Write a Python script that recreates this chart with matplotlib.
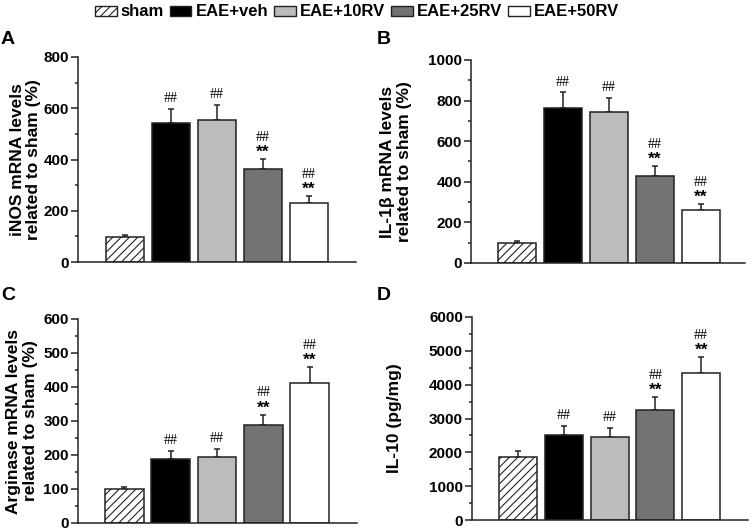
import matplotlib
matplotlib.use("Agg")
import matplotlib.pyplot as plt
from matplotlib.patches import Patch
from matplotlib.ticker import MultipleLocator
import numpy as np

plt.rcParams['font.family'] = ['Liberation Sans', 'DejaVu Sans']
plt.rcParams['font.weight'] = 'bold'
plt.rcParams['hatch.linewidth'] = 0.8
plt.rcParams['hatch.color'] = '#222222'

groups = ["sham", "EAE+veh", "EAE+10RV", "EAE+25RV", "EAE+50RV"]
colors = ["white", "black", "#bcbcbc", "#737373", "white"]
hatches = ["////", None, None, None, None]

inos_mean = [98, 541, 555, 364, 230]
inos_err = [9, 57, 58, 37, 27]
inos_marks = ["", "##", "##", "##\n**", "##\n**"]

il1b_mean = [99, 765, 744, 431, 259]
il1b_err = [8, 75, 69, 48, 31]
il1b_marks = ["", "##", "##", "##\n**", "##\n**"]

arg_mean = [99, 189, 194, 287, 412]
arg_err = [8, 23, 23, 32, 46]
arg_marks = ["", "##", "##", "##\n**", "##\n**"]

il10_mean = [1860, 2515, 2466, 3255, 4335]
il10_err = [190, 265, 265, 375, 490]
il10_marks = ["", "##", "##", "##\n**", "##\n**"]

panels = [
    ("A", inos_mean, inos_err, inos_marks, "iNOS mRNA levels\nrelated to sham (%)", 800, 200, 100,
     [78/750, (528-262)/528, (356-78)/750, (262-57)/528], (-1.02, 5.02), -0.132),
    ("B", il1b_mean, il1b_err, il1b_marks, "IL-1\u03b2 mRNA levels\nrelated to sham (%)", 1000, 200, 100,
     [471/750, (528-263)/528, (745-471)/750, (263-60)/528], (-1.0, 4.96), -0.215),
    ("C", arg_mean, arg_err, arg_marks, "Arginase mRNA levels\nrelated to sham (%)", 600, 100, 50,
     [78/750, (528-523)/528, (357-78)/750, (523-319)/528], (-1.0, 5.02), -0.143),
    ("D", il10_mean, il10_err, il10_marks, "IL-10 (pg/mg)", 6000, 1000, 500,
     [472/750, (528-520)/528, (748-472)/750, (520-317)/528], (-1.0, 5.02), -0.254),
]

fig = plt.figure(figsize=(7.5, 5.28), dpi=100)
letter_pos = {"A": (1/750, 1-31/528), "B": (377/750, 1-31/528),
              "C": (1/750, 1-287/528), "D": (377/750, 1-287/528)}

edge = "#222222"
for letter, mean, err, marks, ylabel, ymax, major, minor, rect, xl, lx in panels:
    ax = fig.add_axes(rect)
    x = np.arange(len(mean))
    bars = ax.bar(x, mean, width=0.83, color=colors, edgecolor=edge, linewidth=1.1, zorder=2)
    for b, h in zip(bars, hatches):
        if h:
            b.set_hatch(h)
    ax.errorbar(x, mean, yerr=[np.zeros(len(err)), err], fmt="none", ecolor=edge,
                elinewidth=1.1, capsize=2.3, capthick=1.1, zorder=1)
    for xi, m, e, mk in zip(x, mean, err, marks):
        if not mk:
            continue
        top = m + e
        if "**" in mk:
            ax.annotate("**", (xi, top), xytext=(0, 1.5), textcoords="offset points",
                        ha="center", va="baseline", fontsize=12.5, fontweight="bold")
            ax.annotate("##", (xi, top), xytext=(0, 13.0), textcoords="offset points",
                        ha="center", va="baseline", fontsize=10, fontweight="normal",
                        family="Liberation Serif")
        else:
            ax.annotate("##", (xi, top), xytext=(0, 5), textcoords="offset points",
                        ha="center", va="baseline", fontsize=10, fontweight="normal",
                        family="Liberation Serif")
    ax.set_ylim(0, ymax)
    ax.set_xlim(*xl)
    ax.yaxis.set_major_locator(MultipleLocator(major))
    ax.yaxis.set_minor_locator(MultipleLocator(minor))
    ax.spines["top"].set_visible(False)
    ax.spines["right"].set_visible(False)
    ax.spines["left"].set_linewidth(1.1)
    ax.spines["bottom"].set_linewidth(1.1)
    ax.spines["left"].set_color(edge)
    ax.spines["bottom"].set_color(edge)
    ax.set_xticks([])
    ax.tick_params(axis="y", which="major", length=5, width=1.1, labelsize=11, pad=1.5, color=edge)
    ax.tick_params(axis="y", which="minor", length=2.5, width=1.1, color=edge)
    for lab in ax.get_yticklabels():
        lab.set_fontweight("bold")
    ax.set_ylabel(ylabel, fontsize=12.5, fontweight="bold", linespacing=1.15)
    ax.yaxis.set_label_coords(lx, 0.5)
    fig.text(*letter_pos[letter], letter, fontsize=14, fontweight="bold", va="top", ha="left")

handles = [Patch(facecolor=c, edgecolor=edge, hatch=h, linewidth=1.0)
           for c, h in zip(colors, hatches)]
fig.legend(handles, groups, loc="upper center", bbox_to_anchor=(0.476, 1.02), ncol=5,
           frameon=False, handlelength=1.3, handleheight=0.55,
           handletextpad=0.25, columnspacing=0.35, prop={"weight": "bold", "size": 12})

fig.savefig("out.png", dpi=100)
